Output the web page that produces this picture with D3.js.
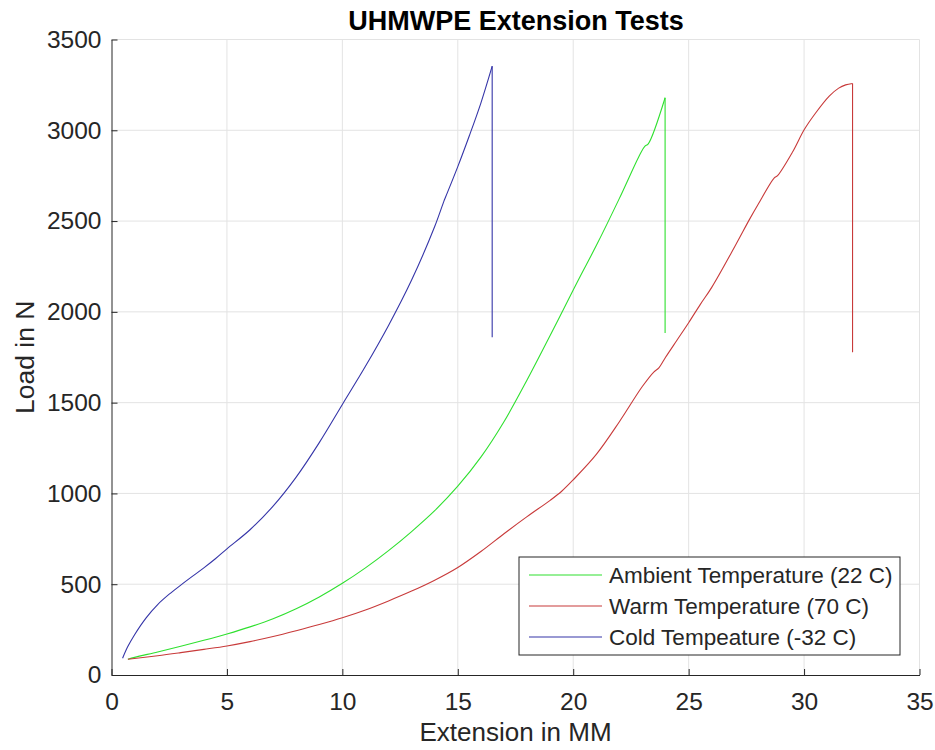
<!DOCTYPE html>
<html>
<head>
<meta charset="utf-8">
<script src="https://cdn.jsdelivr.net/npm/d3@7/dist/d3.min.js"></script>
<style>
  html, body { margin: 0; padding: 0; background: #fff; }
  svg { display: block; font-family: "Liberation Sans", Arial, Helvetica, sans-serif; }
</style>
</head>
<body>
<svg id="chart" width="935" height="750"></svg>
<script>
// ---- Data ----
const seriesNames = ["Ambient Temperature (22 C)", "Warm Temperature (70 C)", "Cold Tempeature (-32 C)"];
const seriesColors = ["#2fe02f", "#c83a3a", "#3535a8"];

const ambientX = [0.71, 1, 2, 3, 4, 5, 6, 7, 8, 9, 10, 11, 12, 13, 14, 15, 16, 17, 18, 19, 20, 20.3, 21, 22, 22.9, 23.1, 23.25, 23.98, 23.98];
const ambientY = [87, 97, 127, 158, 191, 226, 265, 310, 365, 430, 505, 590, 685, 790, 905, 1040, 1200, 1395, 1625, 1870, 2120, 2195, 2365, 2625, 2870, 2912, 2925, 3179, 1883];

const warmX = [0.71, 2, 3, 4, 5, 6, 7, 8, 9, 10, 11, 12, 13, 14, 15, 16, 17, 18, 19, 19.5, 20, 21, 22, 23, 23.5, 23.7, 24, 24.5, 25, 25.5, 26, 27, 27.63, 28, 28.71, 28.85, 29.5, 30.01, 30.5, 31.09, 31.5, 31.8, 32.1, 32.1];
const warmY = [87, 106, 123, 141, 160, 184, 212, 244, 278, 315, 358, 408, 462, 522, 592, 680, 778, 872, 962, 1012, 1075, 1215, 1395, 1590, 1670, 1690, 1750, 1845, 1940, 2040, 2135, 2360, 2508, 2590, 2738, 2750, 2880, 3004, 3095, 3188, 3232, 3250, 3258, 1777];

const coldX = [0.48, 0.7, 1.0, 1.5, 2.0, 2.5, 3.0, 3.5, 4.0, 4.5, 5.0, 6, 7, 8, 9, 10, 11, 12, 13, 14, 14.4, 14.48, 15, 15.5, 16, 16.49, 16.49];
const coldY = [92, 155, 222, 315, 388, 445, 495, 543, 590, 640, 695, 800, 930, 1090, 1280, 1490, 1700, 1925, 2175, 2470, 2610, 2635, 2800, 2970, 3150, 3353, 1860];

const xTicks = [0, 5, 10, 15, 20, 25, 30, 35];
const yTicks = [0, 500, 1000, 1500, 2000, 2500, 3000, 3500];

const titleText = "UHMWPE Extension Tests";
const xLabel = "Extension in MM";
const yLabel = "Load in N";

// ---- Build ----
const series = [
  { name: seriesNames[0], color: seriesColors[0], pts: ambientX.map((x, i) => [x, ambientY[i]]) },
  { name: seriesNames[1], color: seriesColors[1], pts: warmX.map((x, i) => [x, warmY[i]]) },
  { name: seriesNames[2], color: seriesColors[2], pts: coldX.map((x, i) => [x, coldY[i]]) }
];

const svg = d3.select("#chart");
const axisColor = "#262626";
const gridColor = "#e3e3e3";

const x = d3.scaleLinear().domain([0, 35]).range([111.5, 919.5]);
const y = d3.scaleLinear().domain([0, 3500]).range([675, 39.5]);

// grid
const grid = svg.append("g");
grid.selectAll("line.vx").data(xTicks.filter(d => d > 0)).join("line")
  .attr("x1", d => x(d)).attr("x2", d => x(d))
  .attr("y1", y(0)).attr("y2", y(3500))
  .attr("stroke", gridColor).attr("stroke-width", 1);
grid.selectAll("line.hy").data(yTicks.filter(d => d > 0)).join("line")
  .attr("x1", x(0)).attr("x2", x(35))
  .attr("y1", d => y(d)).attr("y2", d => y(d))
  .attr("stroke", gridColor).attr("stroke-width", 1);

// lines
const line = d3.line().x(d => x(d[0])).y(d => y(d[1])).curve(d3.curveCatmullRom.alpha(0.5));
const lineLin = d3.line().x(d => x(d[0])).y(d => y(d[1]));
series.forEach(s => {
  const body = s.pts.slice(0, s.pts.length - 1);
  const drop = s.pts.slice(s.pts.length - 2);
  svg.append("path").attr("d", line(body)).attr("fill", "none")
    .attr("stroke", s.color).attr("stroke-width", 1.1);
  svg.append("path").attr("d", lineLin(drop)).attr("fill", "none")
    .attr("stroke", s.color).attr("stroke-width", 1.1);
});

// axes
const xAxis = d3.axisBottom(x).tickValues(xTicks).tickSizeInner(-6).tickSizeOuter(0).tickPadding(18).tickFormat(d3.format("d"));
const yAxis = d3.axisLeft(y).tickValues(yTicks).tickSizeInner(-6).tickSizeOuter(0).tickPadding(10).tickFormat(d3.format("d"));

const gx = svg.append("g").attr("transform", `translate(0,${y(0)})`).call(xAxis);
const gy = svg.append("g").attr("transform", `translate(${x(0)},0)`).call(yAxis);
[gx, gy].forEach(g => {
  g.select(".domain").attr("stroke", axisColor).attr("stroke-width", 1);
  g.selectAll(".tick line").attr("stroke", axisColor);
  g.selectAll(".tick text").attr("fill", axisColor)
    .style("font-size", "24.5px").style("font-family", '"Liberation Sans", Arial, sans-serif');
});

// title and labels
svg.append("text").attr("x", 516).attr("y", 30).attr("text-anchor", "middle")
  .style("font-size", "27px").style("font-weight", "bold").attr("fill", "#000").text(titleText);
svg.append("text").attr("x", 515.5).attr("y", 741).attr("text-anchor", "middle")
  .style("font-size", "26px").attr("fill", axisColor).text(xLabel);
svg.append("text").attr("transform", `translate(34,${(y(0) + y(3500)) / 2}) rotate(-90)`).attr("text-anchor", "middle")
  .style("font-size", "26.5px").attr("fill", axisColor).text(yLabel);

// legend
const leg = svg.append("g");
leg.append("rect").attr("x", 519).attr("y", 557).attr("width", 381).attr("height", 98)
  .attr("fill", "#fff").attr("stroke", axisColor).attr("stroke-width", 1);
series.forEach((s, i) => {
  const yy = 575 + i * 31;
  leg.append("line").attr("x1", 529).attr("x2", 602).attr("y1", yy).attr("y2", yy)
    .attr("stroke", s.color).attr("stroke-width", 1.1);
  leg.append("text").attr("x", 609).attr("y", yy).attr("dy", "0.35em")
    .style("font-size", "22.5px").attr("fill", axisColor).text(s.name);
});
</script>
</body>
</html>
